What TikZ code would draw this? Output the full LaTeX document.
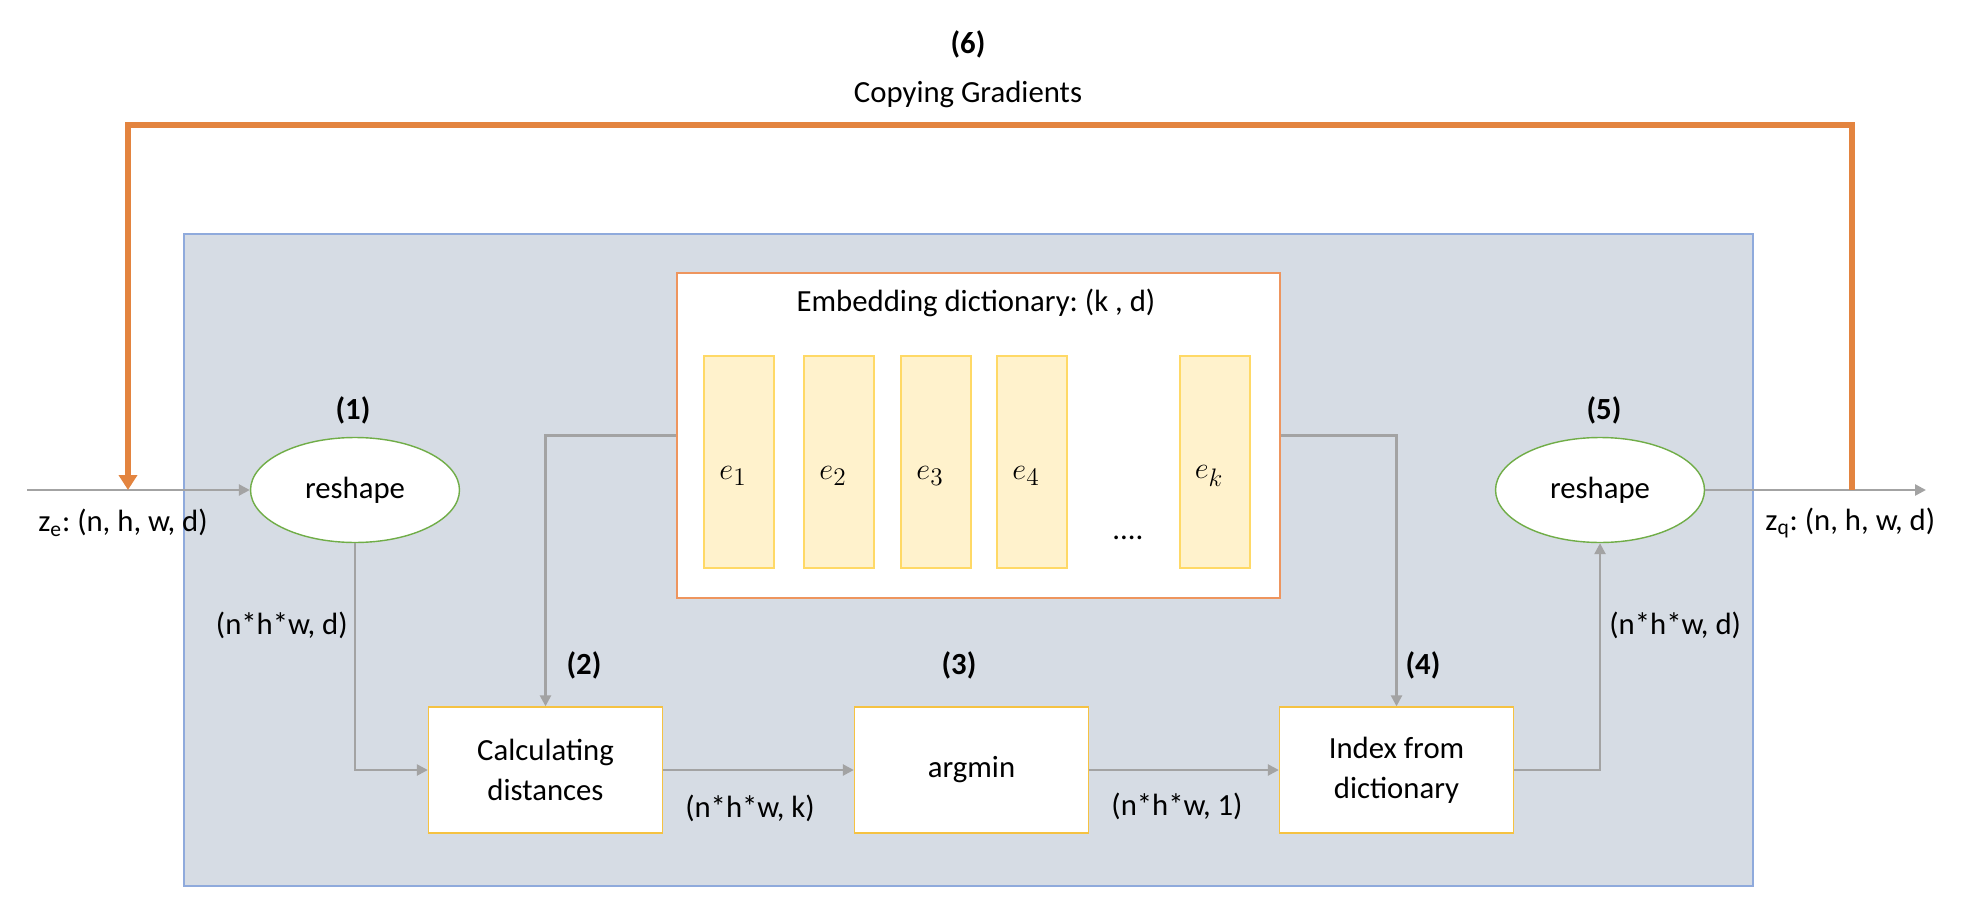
\documentclass[tikz,border=0pt]{standalone}
\usepackage{fontspec}
\setmainfont{Carlito}
\usetikzlibrary{arrows.meta, shapes.geometric}
\definecolor{panelfill}{HTML}{D6DCE4}
\definecolor{panelline}{HTML}{8FAADC}
\definecolor{gradorange}{HTML}{E3843F}
\definecolor{flowgray}{HTML}{A3A3A3}
\definecolor{ellgreen}{HTML}{70AD47}
\definecolor{boxyellow}{HTML}{F5C242}
\definecolor{barfill}{HTML}{FFF2CC}
\definecolor{barline}{HTML}{FFD966}
\definecolor{dictline}{HTML}{EE955E}
\frenchspacing

\begin{document}
\begin{tikzpicture}[x=0.02cm, y=-0.02cm,
    txt/.style={font=\fontsize{17.5}{22.7}\selectfont, inner sep=0pt},
    num/.style={font=\fontsize{17.5}{22.7}\selectfont\bfseries, inner sep=0pt},
    resh/.style={ellipse, draw=ellgreen, fill=white, line width=0.8pt, minimum width=4.18cm, minimum height=2.1cm, txt},
    opbox/.style={rectangle, draw=boxyellow, fill=white, line width=0.8pt, minimum width=4.68cm, minimum height=2.52cm, align=center, txt},
    dict/.style={rectangle, draw=dictline, fill=white, line width=0.7pt, minimum width=12.06cm, minimum height=6.5cm},
    bar/.style={rectangle, draw=barline, fill=barfill, line width=0.8pt, minimum width=1.4cm, minimum height=4.24cm},
    flow/.style={draw=flowgray, line width=1.4pt, -{Triangle[length=0.22cm, width=0.22cm]}},
    grad/.style={draw=gradorange, line width=3.4pt, -{Triangle[length=0.3cm, width=0.36cm]}}
]
    \useasboundingbox (0,0) rectangle (1966,912);
    % Quantizer panel
    \draw[draw=panelline, fill=panelfill, line width=0.9pt] (184,234) rectangle (1753,886);
    % Embedding dictionary
    \node[dict] (embed) at (978.5,435.5) {};
    \node[txt] (embtitle) at (976,303) {Embedding dictionary: (k , d)};
    \foreach \i/\x in {1/739, 2/839, 3/936, 4/1032, k/1215} {
        \node[bar] (e\i) at (\x,462) {};
        \node[txt] (l\i) at (\x-6,476) {\fontsize{19}{22}\selectfont$e_{\i}$};
    }
    \node[txt] (dots) at (1128,538) {....};
    % Reshape ellipses
    \node[resh] (res1) at (355,490) {reshape};
    \node[resh] (res5) at (1600,490) {reshape};
    % Operations
    \node[opbox] (calc) at (545.5,770) {Calculating\\distances};
    \node[opbox] (argmin) at (971.5,770) {argmin};
    \node[opbox] (index) at (1396.5,770) {Index from\\dictionary};
    % Step numbers
    \node[num] (n1) at (353,410) {(1)};
    \node[num] (n2) at (584,665) {(2)};
    \node[num] (n3) at (959,665) {(3)};
    \node[num] (n4) at (1423,665) {(4)};
    \node[num] (n5) at (1604,410) {(5)};
    \node[num] (n6) at (968,44) {(6)};
    \node[txt] (copy) at (968,94) {Copying Gradients};
    % Shapes
    \node[txt, anchor=west] (zin) at (38,523) {z\textsubscript{e}: (n, h, w, d)};
    \node[txt, anchor=west] (zout) at (1765,523) {z\textsubscript{q}: (n, h, w, d)};
    \node[txt, anchor=east] (s1) at (348,625) {(n*h*w,\ d)};
    \node[txt, anchor=west] (s5) at (1609,625) {(n*h*w,\ d)};
    \node[txt] (s2) at (750,808) {(n*h*w,\ k)};
    \node[txt] (s3) at (1177,806) {(n*h*w,\ 1)};
    % Flow
    \coordinate (start) at (27,490);
    \coordinate (end) at (1926,490);
    \draw[flow] (start) -- (res1.west);
    \draw[flow] (res1.south) |- (calc.west);
    \draw[flow] (embed.west) -| (calc.north);
    \draw[flow] (calc) -- (argmin);
    \draw[flow] (argmin) -- (index);
    \draw[flow] (embed.east) -| (index.north);
    \draw[flow] (index.east) -| (res5.south);
    \draw[flow] (res5.east) -- (end);
    % Gradient copy
    \coordinate (gsrc) at (1852,490);
    \coordinate (gdst) at (128,490);
    \draw[grad] (gsrc) -- ++(0,-365) -| (gdst);
\end{tikzpicture}
\end{document}
